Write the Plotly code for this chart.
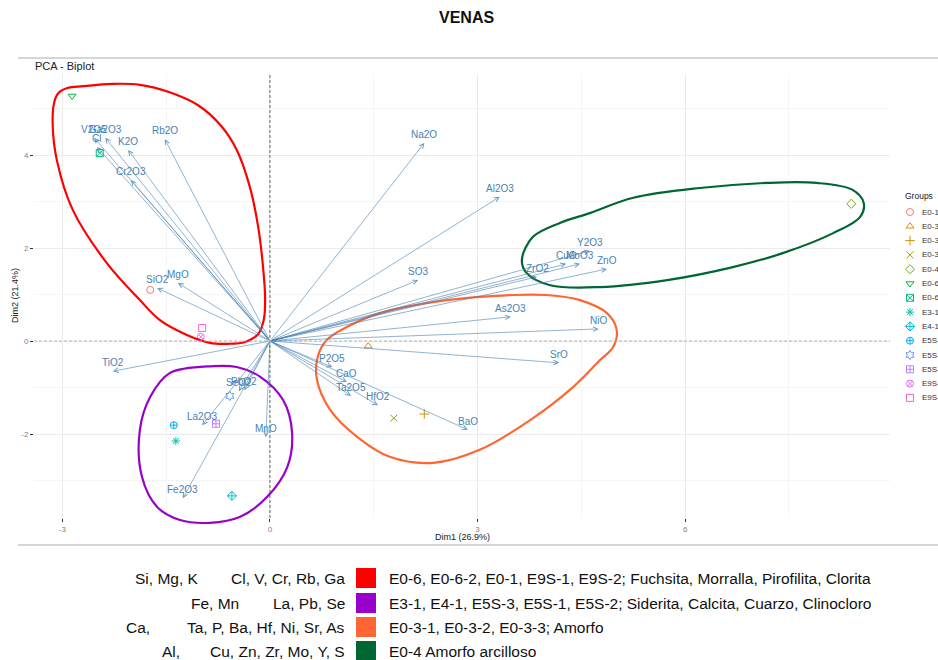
import plotly.graph_objects as go

# ---------------- PCA variables (arrow tips, Dim1 / Dim2) ----------------
variables = ["SiO2", "MgO", "K2O", "Cl", "V2O5", "Cr2O3", "Rb2O", "Ga2O3",
             "Fe2O3", "MnO", "La2O3", "PbO2", "SeO2",
             "CaO", "Ta2O5", "P2O5", "BaO", "HfO2", "NiO", "SrO", "As2O3",
             "Al2O3", "CuO", "ZnO", "ZrO2", "MoO3", "Y2O3", "SO3", "Na2O", "TiO2"]
var_dim1 = [-1.63, -1.33, -2.05, -2.50, -2.54, -2.01, -1.52, -2.38,
            -1.26, -0.06, -0.98, -0.37, -0.45,
            1.11, 1.17, 0.90, 2.86, 1.56, 4.75, 4.18, 3.48,
            3.32, 4.28, 4.87, 3.86, 4.48, 4.62, 2.14, 2.23, -2.27]
var_dim2 = [1.14, 1.25, 4.11, 4.17, 4.37, 3.46, 4.34, 4.37,
            -3.38, -2.07, -1.81, -1.06, -1.08,
            -0.88, -1.18, -0.56, -1.91, -1.38, 0.26, -0.47, 0.52,
            3.10, 1.66, 1.55, 1.38, 1.66, 1.94, 1.31, 4.26, -0.65]

# ---------------- Samples (individual scores) ----------------
groups = ["E0-1", "E0-3-1", "E0-3-2", "E0-3-3", "E0-4", "E0-6", "E0-6-2",
          "E3-1", "E4-1", "E5S-1", "E5S-2", "E5S-3", "E9S-1", "E9S-2"]
ind_dim1 = [-1.73, 1.42, 2.23, 1.79, 8.40, -2.86, -2.46,
            -1.36, -0.55, -1.39, -0.58, -0.78, -1.00, -0.98]
ind_dim2 = [1.10, -0.11, -1.57, -1.66, 2.95, 5.27, 4.04,
            -2.15, -3.33, -1.81, -1.18, -1.78, 0.09, 0.28]
group_colors = ["#F8766D", "#E58700", "#C99800", "#A3A500", "#6BB100", "#00BA38", "#00BF7D",
                "#00C0AF", "#00BCD8", "#00B0F6", "#619CFF", "#B983FF", "#E76BF3", "#FD61D1"]
group_symbols = ["circle-open", "triangle-up-open", "cross-thin-open", "x-thin-open",
                 "diamond-open", "triangle-down-open", "square-x-open", "asterisk-open",
                 "diamond-cross-open", "circle-cross-open", "hexagram-open",
                 "square-cross-open", "circle-x-open", "square-open"]

# ---------------- Cluster outlines (Dim1 / Dim2 units) ----------------
red_x = [-3.12, -3.06, -2.93, -2.70, -2.27, -1.88, -1.45, -1.05, -0.72, -0.48, -0.29,
         -0.17, -0.10, -0.07, -0.09, -0.17, -0.36, -0.61, -0.87, -1.20, -1.59, -1.88,
         -2.36, -2.85, -3.08, -3.14]
red_y = [5.12, 5.33, 5.44, 5.48, 5.53, 5.51, 5.35, 5.08, 4.65, 4.11, 3.31,
         2.45, 1.59, 0.92, 0.45, 0.15, -0.02, -0.06, -0.04, 0.13, 0.45, 0.88,
         1.68, 2.82, 3.89, 4.65]
purple_x = [-0.82, -0.48, -0.14, 0.19, 0.32, 0.25, -0.04, -0.43, -0.87, -1.30, -1.63,
            -1.85, -1.88, -1.73, -1.45]
purple_y = [-0.54, -0.56, -0.77, -1.27, -1.98, -2.71, -3.35, -3.78, -3.91, -3.85, -3.57,
            -2.92, -1.91, -1.20, -0.69]
orange_x = [0.82, 1.11, 1.59, 2.56, 3.51, 4.00, 4.48, 4.87, 5.01, 4.96, 4.77, 4.38,
            3.76, 3.03, 2.36, 1.73, 1.26, 0.87, 0.68, 0.69]
orange_y = [0.02, 0.30, 0.60, 0.88, 0.99, 0.99, 0.88, 0.60, 0.24, -0.13, -0.41, -0.99,
            -1.70, -2.34, -2.62, -2.49, -2.06, -1.48, -0.84, -0.34]
green_x = [3.64, 3.80, 4.19, 4.62, 5.25, 6.21, 7.18, 7.90, 8.42, 8.58, 8.53, 8.14,
           7.41, 6.69, 5.74, 4.77, 4.05, 3.71]
green_y = [1.74, 2.24, 2.54, 2.75, 3.08, 3.29, 3.40, 3.40, 3.25, 2.97, 2.67, 2.32,
           1.89, 1.59, 1.31, 1.16, 1.20, 1.46]

# ---------------- Cluster key ----------------
key_colors = ["#FF0000", "#9900CC", "#FF6633", "#006633"]
key_elements_a = ["Si, Mg, K", "Fe, Mn", "Ca,", "Al,"]
key_elements_b = ["Cl, V, Cr, Rb, Ga", "La, Pb, Se", "Ta, P, Ba, Hf, Ni, Sr, As",
                  "Cu, Zn, Zr, Mo, Y, S"]
key_labels = ["E0-6, E0-6-2, E0-1, E9S-1, E9S-2; Fuchsita, Morralla, Pirofilita, Clorita",
              "E3-1, E4-1, E5S-3, E5S-1, E5S-2; Siderita, Calcita, Cuarzo, Clinocloro",
              "E0-3-1, E0-3-2, E0-3-3; Amorfo",
              "E0-4 Amorfo arcilloso"]

# ---------------- Geometry ----------------
W, H = 938, 660
PANEL_L, PANEL_R, PANEL_T, PANEL_B = 34, 890, 74, 518
X_RANGE = [-3.41, 8.96]
Y_RANGE = [-3.806, 5.742]
sx = (PANEL_R - PANEL_L) / (X_RANGE[1] - X_RANGE[0])
sy = (PANEL_B - PANEL_T) / (Y_RANGE[1] - Y_RANGE[0])
# full-figure axes sharing the panel's scale (outlines may run past the panel)
FX = [X_RANGE[0] - PANEL_L / sx, X_RANGE[1] + (W - PANEL_R) / sx]
FY = [Y_RANGE[0] - (H - PANEL_B) / sy, Y_RANGE[1] + PANEL_T / sy]


def fig_x(p):
    return FX[0] + p / sx


def fig_y(p):
    return FY[1] - p / sy


def px(p):
    return p / W


def py(p):
    return 1 - p / H


FONT = "Liberation Sans, Arial, sans-serif"
ARROW = "rgba(70,130,180,0.85)"


def label(x, y, text, size, color="#111", xanchor="center", **kw):
    return dict(x=px(x), y=py(y), xref="paper", yref="paper", text=text,
                showarrow=False, xanchor=xanchor, yanchor="middle",
                font=dict(family=FONT, size=size, color=color), **kw)


fig = go.Figure()

# sample points
for g, x, y, c, s in zip(groups, ind_dim1, ind_dim2, group_colors, group_symbols):
    fig.add_trace(go.Scatter(
        x=[x], y=[y], mode="markers", name=g, showlegend=False,
        marker=dict(symbol=s, size=7, color=c, line=dict(color=c, width=1)),
        xaxis="x", yaxis="y", hoverinfo="name"))

# cluster outlines
for ox, oy, col in [(red_x, red_y, key_colors[0]), (purple_x, purple_y, key_colors[1]),
                    (orange_x, orange_y, key_colors[2]), (green_x, green_y, key_colors[3])]:
    fig.add_trace(go.Scatter(
        x=ox + ox[:1], y=oy + oy[:1], mode="lines", showlegend=False, hoverinfo="skip",
        line=dict(color=col, width=2.2, shape="spline", smoothing=1.0),
        xaxis="x2", yaxis="y2"))

# group legend keys
LEG_Y0, LEG_STEP = 212, 14.3
fig.add_trace(go.Scatter(
    x=[fig_x(910)] * len(groups),
    y=[fig_y(LEG_Y0 + i * LEG_STEP) for i in range(len(groups))],
    mode="markers", showlegend=False, hoverinfo="skip",
    marker=dict(symbol=group_symbols, size=7, color=group_colors,
                line=dict(color=group_colors, width=1)),
    xaxis="x2", yaxis="y2", cliponaxis=False))

annotations = []

# variable arrows and labels
for name, vx, vy in zip(variables, var_dim1, var_dim2):
    annotations.append(dict(
        x=vx, y=vy, ax=0, ay=0, xref="x", yref="y", axref="x", ayref="y",
        text="", showarrow=True, arrowhead=5, arrowsize=1.3, arrowwidth=0.7,
        arrowcolor=ARROW))
    annotations.append(dict(
        x=vx, y=vy, xref="x", yref="y", text=name, showarrow=False, yshift=8.5,
        xanchor="center", yanchor="middle",
        font=dict(family=FONT, size=10, color="#4682B4")))

# titles
annotations.append(label(466, 18, "<b>VENAS</b>", 16))
annotations.append(label(33, 66, "PCA - Biplot", 11, "#222", xanchor="left"))
annotations.append(label((PANEL_L + PANEL_R) / 2, 537, "Dim1 (26.9%)", 9, "#222"))
annotations.append(label(15, (PANEL_T + PANEL_B) / 2, "Dim2 (21.4%)", 9, "#222",
                         textangle=-90))

# group legend text
annotations.append(label(903, 196, "Groups", 8.5, "#222", xanchor="left"))
for i, g in enumerate(groups):
    annotations.append(label(920, LEG_Y0 + i * LEG_STEP, g, 8, "#333", xanchor="left"))

# cluster key
shapes = []
KEY_ROWS = [578, 603, 627, 651]
KEY_A_END = [201, 241, 152, 182]
KEY_SIZE = 15.5
for i, ry in enumerate(KEY_ROWS):
    shapes.append(dict(type="rect", xref="paper", yref="paper",
                       x0=px(356), x1=px(376), y0=py(ry + 10), y1=py(ry - 10),
                       fillcolor=key_colors[i], line=dict(width=0)))
    annotations.append(label(KEY_A_END[i], ry, key_elements_a[i], KEY_SIZE, xanchor="right"))
    annotations.append(label(347, ry, key_elements_b[i], KEY_SIZE, xanchor="right"))
    annotations.append(label(387, ry, key_labels[i], KEY_SIZE, xanchor="left"))

# reference lines through the origin
shapes.append(dict(type="line", xref="x", yref="y domain", x0=0, x1=0, y0=0, y1=1,
                   line=dict(color="#444", width=0.8, dash="3px,2px")))
shapes.append(dict(type="line", xref="x domain", yref="y", x0=0, x1=1, y0=0, y1=0,
                   line=dict(color="#AAAAAA", width=0.9, dash="3px,2px")))

# frame rules above and below the chart
for ry in (58, 545):
    shapes.append(dict(type="line", xref="paper", yref="paper", x0=px(18), x1=1,
                       y0=py(ry), y1=py(ry), line=dict(color="#C8C8C8", width=1.5)))

fig.update_layout(
    width=W, height=H,
    margin=dict(l=0, r=0, t=0, b=0, autoexpand=False),
    paper_bgcolor="white", plot_bgcolor="rgba(0,0,0,0)",
    showlegend=False,
    font=dict(family=FONT),
    xaxis=dict(domain=[PANEL_L / W, PANEL_R / W], range=X_RANGE, anchor="y",
               tickvals=[-3, 0, 3, 6], ticktext=["-3", "0", "3", "6"],
               showgrid=True, gridcolor="#EBEBEB", gridwidth=1,
               minor=dict(tickvals=[-1.5, 1.5, 4.5, 7.5], showgrid=True,
                          gridcolor="#F5F5F5", gridwidth=1, ticks=""),
               ticks="outside", ticklen=3, tickwidth=1, tickcolor="#333",
               tickfont=dict(size=8, color="#7F7F7F", family=FONT),
               zeroline=False, showline=False, fixedrange=True),
    yaxis=dict(domain=[(H - PANEL_B) / H, (H - PANEL_T) / H], range=Y_RANGE, anchor="x",
               tickvals=[-2, 0, 2, 4], ticktext=["-2", "0", "2", "4"],
               showgrid=True, gridcolor="#EBEBEB", gridwidth=1,
               minor=dict(tickvals=[-3, -1, 1, 3, 5], showgrid=True,
                          gridcolor="#F5F5F5", gridwidth=1, ticks=""),
               ticks="outside", ticklen=3, tickwidth=1, tickcolor="#333",
               tickfont=dict(size=8, color="#7F7F7F", family=FONT),
               zeroline=False, showline=False, fixedrange=True),
    xaxis2=dict(domain=[0, 1], range=FX, anchor="y2", visible=False, fixedrange=True),
    yaxis2=dict(domain=[0, 1], range=FY, anchor="x2", visible=False, fixedrange=True),
    annotations=annotations,
    shapes=shapes,
)

fig.write_html("out.html")
